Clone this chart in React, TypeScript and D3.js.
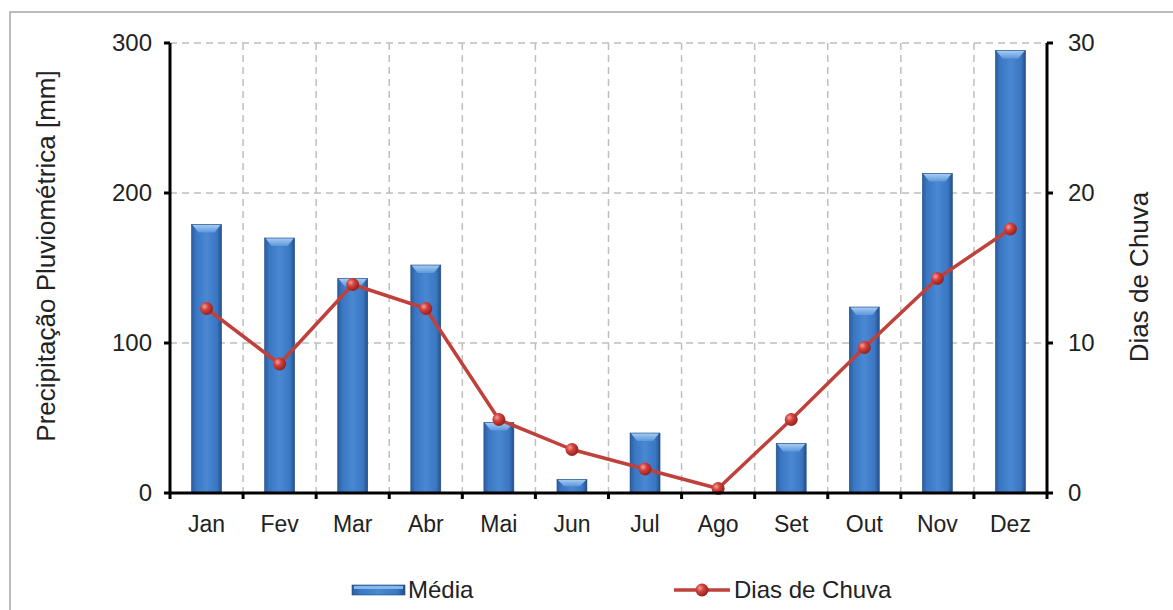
import React from "react";
import * as d3 from "d3";

const months = ["Jan", "Fev", "Mar", "Abr", "Mai", "Jun", "Jul", "Ago", "Set", "Out", "Nov", "Dez"];
const media = [179, 170, 143, 152, 47, 9, 40, 0, 33, 124, 213, 295];
const diasChuva = [12.3, 8.6, 13.9, 12.3, 4.9, 2.9, 1.6, 0.3, 4.9, 9.7, 14.3, 17.6];
const leftTicks = [0, 100, 200, 300];
const rightTicks = [0, 10, 20, 30];

const W = 1173, H = 610;
const M = { left: 170, right: 1047, top: 43, bottom: 493 };
const FONT = "'Liberation Sans', Arial, sans-serif";

export default function App() {
  const x = d3.scaleBand<string>().domain(months).range([M.left, M.right]).paddingInner(0).paddingOuter(0);
  const yL = d3.scaleLinear().domain([0, 300]).range([M.bottom, M.top]);
  const yR = d3.scaleLinear().domain([0, 30]).range([M.bottom, M.top]);
  const bw = x.bandwidth() * 0.41;
  const line = d3.line<number>().x((_, i) => x(months[i])! + x.bandwidth() / 2).y(d => yR(d));
  const boundaries = months.map((m) => x(m)!).slice(1);

  return (
    <svg width={W} height={H} style={{ position: "absolute", left: 0, top: 0, background: "#fff" }}>
      <defs>
        <linearGradient id="barG" x1="0" x2="1" y1="0" y2="0">
          <stop offset="0" stopColor="#2a5d9e" />
          <stop offset="0.15" stopColor="#3a76c2" />
          <stop offset="0.5" stopColor="#4a88d4" />
          <stop offset="0.85" stopColor="#3a76c2" />
          <stop offset="1" stopColor="#23508a" />
        </linearGradient>
        <linearGradient id="bevG" x1="0" x2="0" y1="0" y2="1">
          <stop offset="0" stopColor="#a4caf2" />
          <stop offset="1" stopColor="#5d97dc" />
        </linearGradient>
        <radialGradient id="dotG" cx="0.35" cy="0.35" r="0.7">
          <stop offset="0" stopColor="#f2a09c" />
          <stop offset="0.4" stopColor="#d2413c" />
          <stop offset="1" stopColor="#8e1f1c" />
        </radialGradient>
      </defs>
      <rect x={10} y={12} width={W + 10} height={H + 10} fill="none" stroke="#a6a6a6" strokeWidth={1.5} />

      {/* grid */}
      {leftTicks.filter(t => t > 0).map(t => (
        <line key={"h" + t} x1={M.left} x2={M.right} y1={yL(t)} y2={yL(t)} stroke="#bfbfbf" strokeWidth={1.5} strokeDasharray="7,5" />
      ))}
      {boundaries.map((bx, i) => (
        <line key={"v" + i} x1={bx} x2={bx} y1={M.top} y2={M.bottom} stroke="#bfbfbf" strokeWidth={1.5} strokeDasharray="7,5" />
      ))}

      {/* bars */}
      {media.map((v, i) => {
        if (v <= 0) return null;
        const cx = x(months[i])! + x.bandwidth() / 2;
        const x0 = cx - bw / 2;
        const top = yL(v);
        const h = M.bottom - top;
        const bev = Math.min(8, h / 2);
        return (
          <g key={"b" + i}>
            <rect x={x0} y={top} width={bw} height={h} fill="url(#barG)" stroke="#1f4a82" strokeWidth={0.6} />
            <path d={`M${x0 + 1},${top + 0.5} L${x0 + bw - 1},${top + 0.5} L${x0 + bw - 7},${top + bev} L${x0 + 7},${top + bev} Z`} fill="url(#bevG)" />
          </g>
        );
      })}

      {/* line */}
      <path d={line(diasChuva) || ""} fill="none" stroke="#c0403c" strokeWidth={3.5} strokeLinejoin="round" />
      {diasChuva.map((v, i) => (
        <circle key={"d" + i} cx={x(months[i])! + x.bandwidth() / 2} cy={yR(v)} r={6.5} fill="url(#dotG)" />
      ))}

      {/* axes */}
      <line x1={M.left} x2={M.left} y1={M.top} y2={M.bottom} stroke="#000" strokeWidth={3} />
      <line x1={M.right} x2={M.right} y1={M.top} y2={M.bottom} stroke="#000" strokeWidth={3} />
      <line x1={M.left} x2={M.right} y1={M.bottom} y2={M.bottom} stroke="#000" strokeWidth={3} />
      {leftTicks.map(t => (
        <g key={"lt" + t}>
          <line x1={M.left - 6} x2={M.left} y1={yL(t)} y2={yL(t)} stroke="#000" strokeWidth={3} />
          <text x={152} y={yL(t)} dy="0.35em" textAnchor="end" fontFamily={FONT} fontSize={24} fill="#222">{t}</text>
        </g>
      ))}
      {rightTicks.map(t => (
        <g key={"rt" + t}>
          <line x1={M.right} x2={M.right + 6} y1={yR(t)} y2={yR(t)} stroke="#000" strokeWidth={3} />
          <text x={1068} y={yR(t)} dy="0.35em" textAnchor="start" fontFamily={FONT} fontSize={24} fill="#222">{t}</text>
        </g>
      ))}
      {[M.left, ...boundaries, M.right].map((bx, i) => (
        <line key={"xt" + i} x1={bx} x2={bx} y1={M.bottom} y2={M.bottom + 6} stroke="#000" strokeWidth={3} />
      ))}
      {months.map(m => (
        <text key={"m" + m} x={x(m)! + x.bandwidth() / 2} y={532} textAnchor="middle" fontFamily={FONT} fontSize={23} fill="#222">{m}</text>
      ))}

      {/* axis titles */}
      <text transform={`translate(55,256) rotate(-90)`} textAnchor="middle" fontFamily={FONT} fontSize={26} fill="#222">Precipitação Pluviométrica [mm]</text>
      <text transform={`translate(1148,277) rotate(-90)`} textAnchor="middle" fontFamily={FONT} fontSize={26} fill="#222">Dias de Chuva</text>

      {/* legend */}
      <rect x={352} y={585} width={53} height={10} fill="url(#barG)" stroke="#1f4a82" strokeWidth={0.6} />
      <rect x={354} y={586} width={49} height={3} fill="#8ab7ea" />
      <text x={408} y={590} dy="0.35em" fontFamily={FONT} fontSize={24} fill="#222">Média</text>
      <line x1={674} x2={730} y1={590} y2={590} stroke="#c0403c" strokeWidth={3.5} />
      <circle cx={702} cy={590} r={6.5} fill="url(#dotG)" />
      <text x={734} y={590} dy="0.35em" fontFamily={FONT} fontSize={24} fill="#222">Dias de Chuva</text>
    </svg>
  );
}
